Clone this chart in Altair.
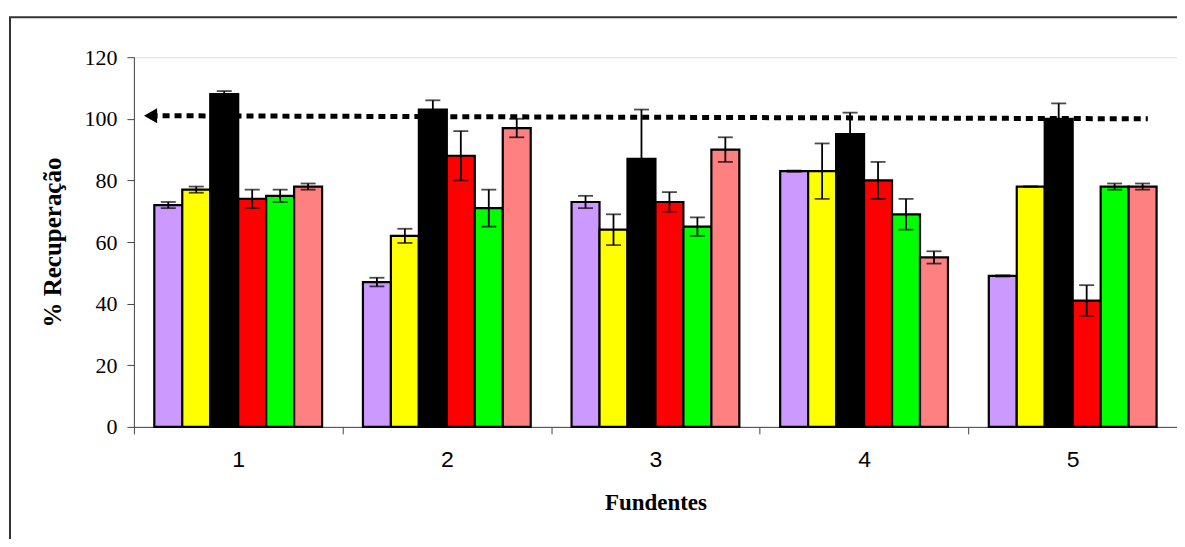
import altair as alt
import pandas as pd

fundentes = ["1", "2", "3", "4", "5"]
series = ["S1", "S2", "S3", "S4", "S5", "S6"]
colors = ["#CC99FF", "#FFFF00", "#000000", "#FF0000", "#00FF00", "#FF8080"]

# values per series, one entry per fundente
v_s1 = [72, 47, 73, 83, 49]
v_s2 = [77, 62, 64, 83, 78]
v_s3 = [108, 103, 87, 95, 100]
v_s4 = [74, 88, 73, 80, 41]
v_s5 = [75, 71, 65, 69, 78]
v_s6 = [78, 97, 90, 55, 78]

e_s1 = [1, 1.4, 2, 0.2, 0.2]
e_s2 = [1, 2.3, 5, 9, 0]
e_s3 = [1, 3, 16, 7, 5]
e_s4 = [3, 8, 3.2, 6, 5]
e_s5 = [2, 6, 3, 5, 1]
e_s6 = [1, 3, 4, 2, 1]

# reference (100 %) dotted arrow line
ref_x = [0.58, 5.36]
ref_y = [101, 100]

vals = [v_s1, v_s2, v_s3, v_s4, v_s5, v_s6]
errs = [e_s1, e_s2, e_s3, e_s4, e_s5, e_s6]
rows = []
for s, vs, es in zip(series, vals, errs):
    for f, v, e in zip(fundentes, vs, es):
        rows.append({"Fundente": f, "Serie": s, "valor": v, "lo": v - e, "hi": v + e})
df = pd.DataFrame(rows)
ref_df = pd.DataFrame({"xp": ref_x, "yp": ref_y})
arrow_df = ref_df.iloc[[0]]
frame_df = pd.DataFrame({"k": [0]})

serif = "Liberation Serif"
sans = "Liberation Sans"

yscale = alt.Scale(domain=[0, 120], nice=False, zero=True)

x_enc = alt.X(
    "Fundente:N",
    sort=fundentes,
    scale=alt.Scale(paddingInner=0, paddingOuter=0),
    axis=alt.Axis(
        title="Fundentes", tickBand="extent", labelAngle=0,
        labelFont=sans, labelFontSize=23, labelColor="black", labelPadding=15,
        titleFont=serif, titleFontSize=23, titleFontWeight="bold", titleColor="black",
        titlePadding=20, tickSize=7, tickColor="#444", domainColor="#444",
    ),
)
xo_enc = alt.XOffset(
    "Serie:N", sort=series,
    scale=alt.Scale(domain=series, paddingInner=0, paddingOuter=0.73),
)

base = alt.Chart(df)

bars = base.mark_bar(stroke="black", strokeWidth=2.2, strokeOpacity=1).encode(
    x=x_enc,
    xOffset=xo_enc,
    y=alt.Y(
        "valor:Q", scale=yscale,
        axis=alt.Axis(
            title="% Recuperação", values=[0, 20, 40, 60, 80, 100, 120], grid=False,
            labelFont=serif, labelFontSize=22, labelColor="black", labelPadding=10,
            titleFont=serif, titleFontSize=25, titleFontWeight="bold", titleColor="black",
            titlePadding=18, tickSize=7, tickColor="#444", domainColor="#444",
        ),
    ),
    fill=alt.Fill("Serie:N", scale=alt.Scale(domain=series, range=colors), legend=None),
)

err_rule = base.mark_rule(color="black", strokeWidth=1.8).encode(
    x=alt.X("Fundente:N", sort=fundentes),
    xOffset=alt.XOffset("Serie:N", sort=series),
    y=alt.Y("lo:Q", scale=yscale),
    y2="hi:Q",
)

caps = base.transform_fold(["lo", "hi"], as_=["kind", "yv"]).mark_tick(
    color="black", thickness=1.8, size=15, orient="horizontal"
).encode(
    x=alt.X("Fundente:N", sort=fundentes),
    xOffset=alt.XOffset("Serie:N", sort=series),
    y=alt.Y("yv:Q", scale=yscale),
)

qx = alt.Scale(domain=[0.5, 5.5], nice=False, zero=False)

ref_line = alt.Chart(ref_df).mark_line(
    color="black", strokeWidth=5, strokeDash=[7, 5], strokeCap="butt"
).encode(
    x=alt.X("xp:Q", scale=qx, axis=None),
    y=alt.Y("yp:Q", scale=yscale),
)

arrow = alt.Chart(arrow_df).mark_point(
    shape="triangle-left", filled=True, color="black", size=230, opacity=1
).encode(
    x=alt.X("xp:Q", scale=qx, axis=None),
    y=alt.Y("yp:Q", scale=yscale),
)

frame = alt.Chart(frame_df).mark_rect(
    fill=None, stroke="#333", strokeWidth=2
).encode(
    x=alt.value(-124), x2=alt.value(1100), y=alt.value(-40), y2=alt.value(600),
)

main = alt.layer(bars, err_rule, caps)
ref = alt.layer(ref_line, arrow)

chart = alt.layer(main, ref, frame).resolve_scale(
    x="independent"
).properties(
    width=1044, height=370,
    autosize=alt.AutoSizeParams(type="none"),
    padding={"left": 126, "top": 49, "right": 0, "bottom": 112},
).configure_view(stroke=None).configure(background="white")

chart.save("out.html", embed_options={"renderer": "svg", "actions": False})
